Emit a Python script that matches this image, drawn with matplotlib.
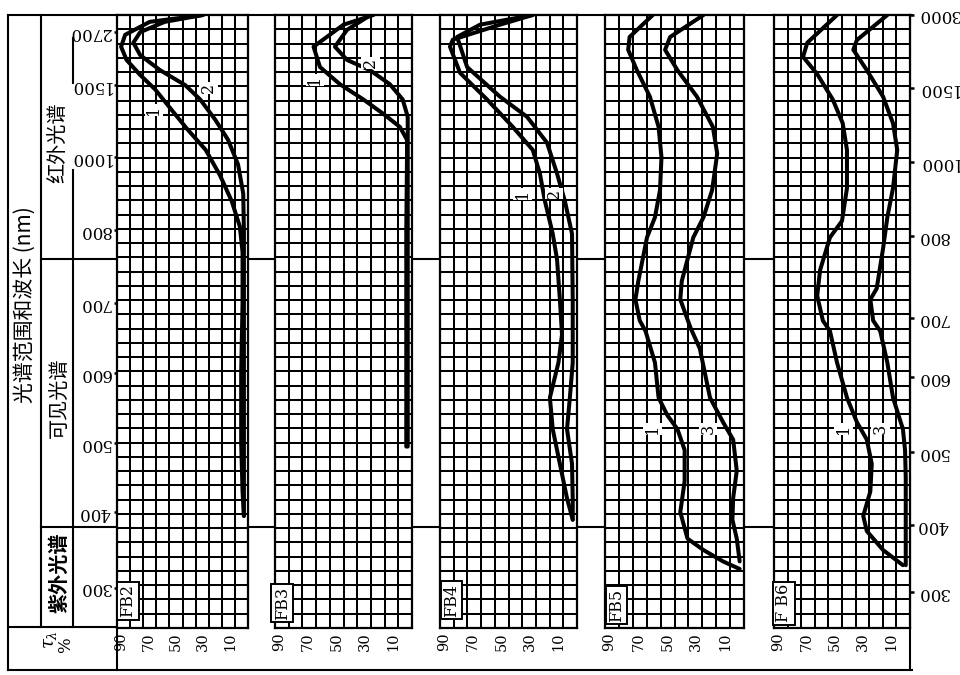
import numpy as np
import matplotlib
matplotlib.use("Agg")
import matplotlib.pyplot as plt
from matplotlib import transforms

plt.rcParams['font.family'] = ['DejaVu Serif', 'Noto Sans CJK SC']
plt.rcParams['mathtext.fontset'] = 'dejavuserif'

#WAVELENGTH SCALE OF THE GRAPH PAPER (nm -> cell counted from the bottom)
wlKnots = [247, 300, 400, 500, 600, 700, 800, 1000, 1500, 2700, 3000]
cellKnots = [0, 2.81, 8.13, 12.97, 17.88, 22.79, 27.91, 33.03, 38.08, 41.80, 43.0]
# the right hand scale of the scan is slightly skewed
wlKnotsR = [250, 300, 400, 500, 600, 700, 800, 1000, 1500, 3000]
cellKnotsR = [0, 2.52, 7.22, 12.34, 17.6, 21.74, 27.49, 32.68, 37.87, 43.0]

leftTicks = [300, 400, 500, 600, 700, 800, 1000, 1500, 2700]
rightTicks = [300, 400, 500, 600, 700, 800, 1000, 1500, 3000]
tauTicks = [90, 70, 50, 30, 10]
bandEdges = [380, 760]

panelNames = ["FB2", "FB3", "FB4", "FB5", "F B6"]

#CURVES (wavelength nm, transmittance %)
fb2Wl1 = [3000, 2880, 2640, 2370, 2070, 1730, 1470, 1340, 1200, 1050, 950, 880, 810, 770, 700, 600, 500, 430, 395]
fb2Tau1 = [30, 69, 87, 90, 86, 76, 65, 54, 42, 28, 17.5, 9, 3, 1, 1, 2, 2, 1, 0]
fb2Wl2 = [3000, 2880, 2700, 2460, 2180, 1840, 1500, 1400, 1260, 1120, 980, 900, 800, 700, 600, 500, 430, 395]
fb2Tau2 = [30, 58, 76, 81, 76, 61.5, 43, 32, 21, 11.6, 4.3, 0.5, 0, 0, 0, 0, 0, 0]

fb3Wl1 = [3000, 2830, 2370, 1910, 1520, 1400, 1300, 1210, 1120, 1000, 800, 600, 495]
fb3Tau1 = [24, 45, 66, 61.5, 47.5, 31, 17, 5.5, 0.5, 0.5, 1, 1, 1]
fb3Wl2 = [3000, 2740, 2370, 2070, 1840, 1520, 1400, 1280, 1000, 800, 600, 495]
fb3Tau2 = [26, 42.5, 51, 42.5, 26.5, 12.5, 3.5, 0, 0, 0, 0, 0]

fb4Wl1 = [3000, 2830, 2530, 2370, 1780, 1400, 1210, 1050, 955, 880, 795, 760, 705, 655, 615, 565, 520, 470, 420, 390]
fb4Tau1 = [28, 51, 84, 86, 79, 60, 42, 28, 23, 19.5, 14, 11, 9, 7.5, 10, 16, 14, 9, 4, 0]
fb4Wl2 = [3000, 2830, 2590, 1910, 1420, 1280, 1100, 955, 880, 795, 705, 615, 565, 520, 470, 420, 390]
fb4Tau2 = [28, 65, 81, 74, 51, 32, 18, 11, 5.5, 0.5, 0, 0, 2, 4, 0.5, 0, 0]

fb5Wl1 = [3000, 2590, 2300, 1840, 1420, 1210, 1000, 910, 835, 790, 730, 705, 675, 660, 615, 565, 540, 520, 490, 445, 400, 365, 350, 335, 325]
fb5Tau1 = [60, 76, 77, 71, 62, 56, 54, 55, 58.5, 64, 70, 72, 69, 65, 58.5, 56, 50, 43, 38, 38, 41, 36, 25, 11.5, 0]
fb5Wl3 = [3000, 2590, 2300, 1840, 1420, 1210, 1025, 910, 835, 790, 730, 705, 665, 635, 565, 530, 505, 460, 420, 390, 365, 335]
fb5Tau3 = [25, 48, 51.5, 43, 29.5, 18.5, 15.5, 19, 25, 32, 40, 41, 34, 27.5, 20.5, 11.5, 4.5, 2, 4.5, 5, 2, 0]

fb6Wl1 = [3000, 2460, 2140, 1750, 1400, 1235, 1050, 915, 825, 790, 745, 710, 675, 660, 615, 565, 530, 505, 470, 430, 395, 375, 350, 330]
fb6Tau1 = [48.5, 69.5, 72.5, 62.5, 51.5, 44.5, 41.5, 41.5, 45, 53.5, 60.5, 62.5, 58.5, 53.5, 48.5, 41.5, 34.5, 27.5, 24, 25, 30, 27.5, 16, 2]
fb6Wl3 = [3000, 2520, 2300, 1840, 1420, 1235, 1050, 915, 835, 775, 720, 705, 675, 660, 615, 565, 520, 490, 450, 400, 350, 330]
fb6Tau3 = [13, 34.5, 37, 27.5, 16, 9, 6, 9, 13, 16, 20.5, 25, 23, 18, 13, 9, 2, 0.5, 0, 0, 0, 0]

curves = [[(fb2Wl1, fb2Tau1), (fb2Wl2, fb2Tau2)],
          [(fb3Wl1, fb3Tau1), (fb3Wl2, fb3Tau2)],
          [(fb4Wl1, fb4Tau1), (fb4Wl2, fb4Tau2)],
          [(fb5Wl1, fb5Tau1), (fb5Wl3, fb5Tau3)],
          [(fb6Wl1, fb6Tau1), (fb6Wl3, fb6Tau3)]]
curveNames = [["1", "2"], ["1", "2"], ["1", "2"], ["1", "3"], ["1", "3"]]


def toCell(wl):
    return np.interp(wl, wlKnots, cellKnots)

def toWl(cell):
    return np.interp(cell, cellKnots, wlKnots)

def toCellR(wl):
    return np.interp(wl, wlKnotsR, cellKnotsR)

def toWlR(cell):
    return np.interp(cell, cellKnotsR, wlKnotsR)


fig = plt.figure(figsize=(9.6, 6.75), dpi=100)
frame = fig.add_axes([0, 0, 1, 1], zorder=0)
frame.set_xlim(0, 960)
frame.set_ylim(675, 0)
frame.axis('off')

#PANELS
panelLeft = [117, 275, 440, 605, 774]
panelWidth = [131, 137, 137, 139, 136]
top, bottom = 15, 628
# where the curve numbers and the panel names sit (tau, wl)
labelPos = [[(66, 1330), (26, 1480)], [(65, 1620), (26, 2000)], [(35, 900), (13, 900)],
            [(60, 520), (22, 520)], [(44, 520), (18, 520)]]
namePos = [(85, 283), (88, 280), (85, 284), (85, 277), (86, 280)]

axes = []
for i in range(5):
    ax = fig.add_axes([panelLeft[i] / 960, (675 - bottom) / 675, panelWidth[i] / 960, (bottom - top) / 675], zorder=1)
    ax.set_yscale('function', functions=(toCell, toWl))
    ax.set_ylim(toWl(0), toWl(43))
    ax.set_xlim(93, -3)
    ax.set_xticks(tauTicks)
    ax.set_xticks(np.linspace(93, -3, 11), minor=True)
    ax.set_yticks(toWl(np.arange(0, 44)), minor=True)
    ax.grid(True, which='minor', color='black', linewidth=1.45)
    ax.grid(False, which='major')
    ax.tick_params(which='minor', length=0)
    ax.tick_params(axis='x', which='major', length=0, pad=3, labelsize=10.5, labelrotation=90)
    if i == 0:
        ax.set_yticks(leftTicks)
        ax.set_yticklabels([str(v) for v in leftTicks])
        ax.tick_params(axis='y', which='major', length=2.5, width=1.8, pad=2, labelsize=12, labelrotation=180)
        for lab in ax.get_yticklabels():
            lab.set_verticalalignment('center')
    else:
        ax.set_yticks([])
    for s in ax.spines.values():
        s.set_linewidth(1.6)

    for j, (wl, tau) in enumerate(curves[i]):
        ax.plot(tau, wl, color='black', linewidth=2.9, solid_joinstyle='round', solid_capstyle='round', zorder=3)
        lt, lw = labelPos[i][j]
        ax.text(lt, lw, curveNames[i][j], rotation=90, ha='center', va='center', fontsize=11.5,
                bbox=dict(facecolor='white', edgecolor='none', pad=0.6), zorder=4)
    nt, nw = namePos[i]
    ax.text(nt, nw, panelNames[i], rotation=90, ha='center', va='center', fontsize=11.5,
            bbox=dict(boxstyle='square,pad=0.15', facecolor='white', edgecolor='black', linewidth=1.4), zorder=5)
    axes.append(ax)

#RIGHT HAND WAVELENGTH SCALE
axR = axes[4].twinx()
axR.set_yscale('function', functions=(toCellR, toWlR))
axR.set_ylim(toWlR(0), toWlR(43))
axR.set_yticks(rightTicks)
axR.set_yticklabels([str(v) for v in rightTicks])
axR.tick_params(axis='y', length=3, width=1.8, pad=2, labelsize=12, labelrotation=180)
for lab in axR.get_yticklabels():
    lab.set_verticalalignment('center')
for s in axR.spines.values():
    s.set_visible(False)

#TABLE FRAME
lineKw = dict(color='black', linewidth=1.5)
frame.plot([8, 912], [15, 15], **lineKw)
frame.plot([8, 8], [15, 670], **lineKw)
frame.plot([8, 912], [670, 670], **lineKw)
frame.plot([910, 910], [15, 670], **lineKw)
frame.plot([41, 41], [15, 627], **lineKw)
frame.plot([73, 73], [38, 83], **lineKw)
frame.plot([73, 73], [170, 627], **lineKw)
frame.plot([8, 117], [627, 627], **lineKw)
frame.plot([117, 117], [627, 670], **lineKw)
band = transforms.blended_transform_factory(frame.transData, axes[0].transData)
for edge in bandEdges:
    frame.plot([41, 910], [edge, edge], transform=band, **lineKw)

cjk = ['Noto Sans CJK SC', 'DejaVu Sans']
frame.text(25, 305, "光谱范围和波长 (nm)", rotation=90, ha='center', va='center', fontsize=15, family=cjk)
frame.text(58, 143, "红外光谱", rotation=90, ha='center', va='center', fontsize=14.5, family=cjk)
frame.text(59, 398, "可见光谱", rotation=90, ha='center', va='center', fontsize=14.5, family=cjk)
frame.text(59, 573, "紫外光谱", rotation=90, ha='center', va='center', fontsize=14.5, fontweight='bold', family=cjk)
frame.text(50, 640, r"$\tau_\lambda$", rotation=90, ha='center', va='center', fontsize=13)
frame.text(66, 645, "%", rotation=90, ha='center', va='center', fontsize=12)

fig.savefig("out.png", dpi=100, facecolor='white')
